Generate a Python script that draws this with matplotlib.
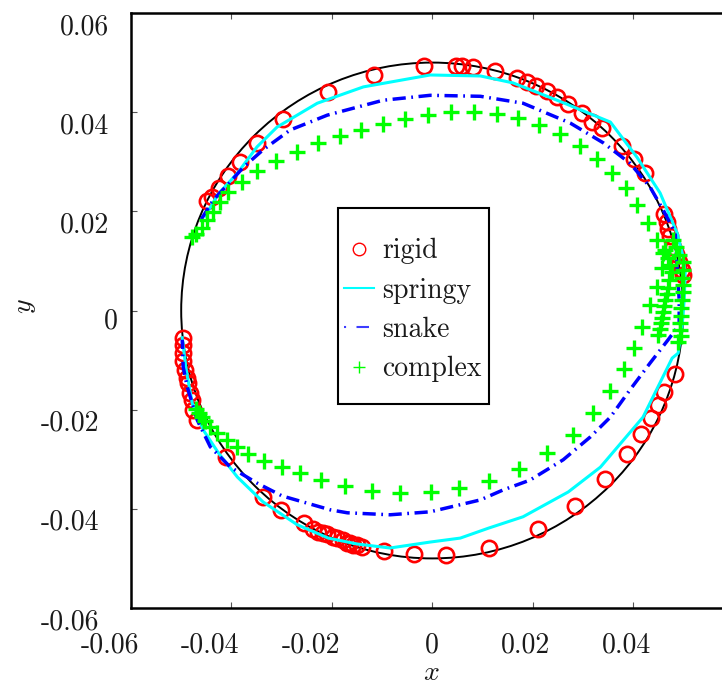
import matplotlib
matplotlib.use("Agg")
import matplotlib.pyplot as plt
from matplotlib.patches import Circle, Rectangle
from matplotlib.lines import Line2D
from matplotlib.font_manager import FontProperties

plt.rcParams["mathtext.fontset"] = "cm"

# ---- data -------------------------------------------------------------
boundary_radius = 0.05

rigid_x = [0.0500, 0.0498, 0.0492, 0.0486, 0.0480, 0.0474, 0.0470, 0.0468, 0.0462,
           0.0424, 0.0402, 0.0378, 0.0339, 0.0319, 0.0299, 0.0271, 0.0249, 0.0229,
           0.0207, 0.0189, 0.0169, 0.0125, 0.0082, 0.0060, 0.0048, -0.0016, -0.0116,
           -0.0207, -0.0297, -0.0349, -0.0382, -0.0406, -0.0424, -0.0438, -0.0448,
           -0.0496, -0.0496, -0.0496, -0.0496, -0.0492, -0.0488, -0.0486, -0.0482,
           -0.0478, -0.0476, -0.0468,
           -0.0410, -0.0337, -0.0301, -0.0255, -0.0237, -0.0227, -0.0217, -0.0209,
           -0.0197, -0.0189, -0.0177, -0.0169, -0.0163, -0.0157, -0.0149, -0.0139,
           -0.0096, -0.0036, 0.0028, 0.0114, 0.0211, 0.0285, 0.0345, 0.0388, 0.0416,
           0.0436, 0.0450, 0.0462, 0.0484]
rigid_y = [0.0072, 0.0082, 0.0098, 0.0114, 0.0128, 0.0150, 0.0164, 0.0178, 0.0195,
           0.0277, 0.0305, 0.0332, 0.0368, 0.0380, 0.0398, 0.0416, 0.0430, 0.0443,
           0.0453, 0.0461, 0.0469, 0.0483, 0.0491, 0.0493, 0.0493, 0.0493, 0.0475,
           0.0441, 0.0386, 0.0338, 0.0299, 0.0271, 0.0247, 0.0229, 0.0221,
           -0.0055, -0.0070, -0.0086, -0.0102, -0.0120, -0.0136, -0.0146, -0.0166,
           -0.0180, -0.0201, -0.0221,
           -0.0295, -0.0376, -0.0402, -0.0428, -0.0441, -0.0447, -0.0449, -0.0451,
           -0.0457, -0.0459, -0.0463, -0.0469, -0.0469, -0.0473, -0.0473, -0.0477,
           -0.0485, -0.0491, -0.0493, -0.0479, -0.0441, -0.0394, -0.0340, -0.0289,
           -0.0249, -0.0217, -0.0191, -0.0164, -0.0128]

springy_x = [-0.0452, -0.0426, -0.0388, -0.0349, -0.0309, -0.0229, -0.0137, -0.0004,
             0.0096, 0.0161, 0.0249, 0.0355, 0.0408, 0.0454, 0.0488, 0.0500, 0.0504,
             0.0502, 0.0498, 0.0490, 0.0478, 0.0420, 0.0335, 0.0271, 0.0181, 0.0112,
             0.0056, -0.0004, -0.0084, -0.0149, -0.0207, -0.0269, -0.0337, -0.0388,
             -0.0426, -0.0456, -0.0478, -0.0490, -0.0498]
springy_y = [0.0191, 0.0235, 0.0277, 0.0330, 0.0370, 0.0418, 0.0451, 0.0475,
             0.0473, 0.0459, 0.0424, 0.0380, 0.0309, 0.0237, 0.0156, 0.0108, 0.0076,
             0.0021, -0.0029, -0.0086, -0.0096, -0.0215, -0.0316, -0.0366, -0.0416,
             -0.0439, -0.0459, -0.0467, -0.0479, -0.0471, -0.0459, -0.0432, -0.0386,
             -0.0336, -0.0287, -0.0241, -0.0187, -0.0120, -0.0055]

snake_x = [-0.0460, -0.0436, -0.0408, -0.0376, -0.0337, -0.0283, -0.0209, -0.0098,
           -0.0004, 0.0096, 0.0181, 0.0275, 0.0341, 0.0394, 0.0434, 0.0460, 0.0484,
           0.0488, 0.0492, 0.0492, 0.0470, 0.0434, 0.0394, 0.0355, 0.0315, 0.0261,
           0.0195, 0.0141, 0.0096, -0.0004, -0.0084, -0.0169, -0.0203, -0.0299,
           -0.0349, -0.0402, -0.0442, -0.0468, -0.0488, -0.0496, -0.0498]
snake_y = [0.0184, 0.0223, 0.0253, 0.0289, 0.0324, 0.0364, 0.0394, 0.0424,
           0.0434, 0.0432, 0.0418, 0.0378, 0.0338, 0.0297, 0.0249, 0.0203, 0.0156,
           0.0088, 0.0021, -0.0029, -0.0059, -0.0106, -0.0160, -0.0215, -0.0255,
           -0.0301, -0.0342, -0.0362, -0.0382, -0.0406, -0.0412, -0.0408, -0.0402,
           -0.0374, -0.0348, -0.0316, -0.0275, -0.0221, -0.0154, -0.0114, -0.0059]

complex_x = [-0.0478, -0.0470, -0.0458, -0.0448, -0.0436, -0.0422, -0.0406, -0.0378,
             -0.0349, -0.0311, -0.0269, -0.0227, -0.0183, -0.0141, -0.0098, -0.0054,
             -0.0008, 0.0038, 0.0084, 0.0129, 0.0171, 0.0213, 0.0255, 0.0295, 0.0329,
             0.0359, 0.0386, 0.0408, 0.0430, 0.0448,
             0.0480, 0.0486, 0.0492, 0.0500, 0.0500, 0.0498, 0.0500, 0.0500, 0.0498,
             0.0496, 0.0496, 0.0494, 0.0494, 0.0496, 0.0490,
             0.0464, 0.0470, 0.0474, 0.0478, 0.0472, 0.0470, 0.0468, 0.0464, 0.0462,
             0.0460, 0.0458, 0.0456, 0.0454, 0.0450,
             0.0460, 0.0458, 0.0448, 0.0434, 0.0418, 0.0402,
             0.0382, 0.0355, 0.0321, 0.0281, 0.0229, 0.0173, 0.0114, 0.0054, -0.0002,
             -0.0064, -0.0120, -0.0173, -0.0221, -0.0263, -0.0299, -0.0335, -0.0367,
             -0.0388, -0.0408, -0.0428, -0.0442, -0.0452, -0.0458, -0.0464, -0.0470]
complex_y = [0.0148, 0.0154, 0.0166, 0.0182, 0.0199, 0.0219, 0.0239, 0.0259,
             0.0281, 0.0301, 0.0320, 0.0338, 0.0352, 0.0364, 0.0376, 0.0386,
             0.0394, 0.0400, 0.0400, 0.0396, 0.0388, 0.0374, 0.0356, 0.0332, 0.0305,
             0.0277, 0.0247, 0.0213, 0.0176, 0.0142,
             0.0142, 0.0128, 0.0112, 0.0098, 0.0082, 0.0066, 0.0051, 0.0037, 0.0021,
             0.0005, -0.0011, -0.0025, -0.0039, -0.0051, -0.0064,
             0.0122, 0.0106, 0.0092, 0.0078, 0.0061, 0.0045, 0.0033, 0.0021, 0.0009,
             -0.0003, -0.0015, -0.0025, -0.0037, -0.0049,
             0.0116, 0.0086, 0.0047, 0.0011, -0.0033, -0.0076,
             -0.0118, -0.0162, -0.0207, -0.0251, -0.0287, -0.0320, -0.0344, -0.0358,
             -0.0366, -0.0368, -0.0364, -0.0354, -0.0342, -0.0328, -0.0316, -0.0303,
             -0.0289, -0.0275, -0.0261, -0.0247, -0.0235, -0.0223, -0.0215, -0.0207,
             -0.0199]

x_ticks = [-0.06, -0.04, -0.02, 0.0, 0.02, 0.04]
x_tick_labels = ["-0.06", "-0.04", "-0.02", "0", "0.02", "0.04"]
y_ticks = [-0.06, -0.04, -0.02, 0.0, 0.02, 0.04, 0.06]
y_tick_labels = ["-0.06", "-0.04", "-0.02", "0", "0.02", "0.04", "0.06"]
legend_labels = ["rigid", "springy", "snake", "complex"]

# ---- figure -----------------------------------------------------------
W, H = 722, 685
fig = plt.figure(figsize=(W / 100, H / 100), dpi=100)
ax = fig.add_axes([131 / W, 77 / H, 602.4 / W, 595 / H])
ax.set_xlim(-0.06, 0.06)
ax.set_ylim(-0.06, 0.06)

roman = FontProperties(family="cmr10", size=20)
text_color = "#1a1a1a"

ax.add_patch(Circle((0, 0), boundary_radius, fill=False, ec="black", lw=1.4, zorder=1))
ax.plot(rigid_x, rigid_y, ls="none", marker="o", mfc="none", mec="#ff0000",
        ms=11, mew=1.9, zorder=2)
ax.plot(springy_x, springy_y, color="#00ffff", lw=2.2, zorder=3)
ax.plot(snake_x, snake_y, color="#0000ff", lw=2.5, zorder=3,
        dashes=[3.8, 1.6, 0.5, 1.6])
ax.plot(complex_x, complex_y, ls="none", marker="+", color="#00ff00",
        ms=12, mew=2.4, zorder=4)

# ticks point into the box, labels drawn separately
ax.set_xticks(x_ticks)
ax.set_yticks(y_ticks)
ax.tick_params(direction="in", length=4, width=0.8, color="#555555",
               top=True, right=True, labelbottom=False, labelleft=False)
for sp in ax.spines.values():
    sp.set_linewidth(1.8)

for t, lab in zip(x_ticks, x_tick_labels):
    if lab == "0":
        dx, ha = 0, "center"
    elif lab.startswith("-"):
        dx, ha = 8, "right"
    else:
        dx, ha = 18, "right"
    ax.annotate(lab, xy=(t, -0.06), xytext=(dx, -37), textcoords="offset pixels",
                ha=ha, va="center", fontproperties=roman, color=text_color,
                annotation_clip=False)

for t, lab in zip(y_ticks, y_tick_labels):
    if lab == "0":
        dx, dy = -13, -11
    elif lab.startswith("-"):
        dx, dy = -32, -14
    else:
        dx, dy = -22, -14
    ax.annotate(lab, xy=(-0.06, t), xytext=(dx, dy), textcoords="offset pixels",
                ha="right", va="center", fontproperties=roman, color=text_color,
                annotation_clip=False)

fig.text(431 / W, 1 - 672 / H, r"$x$", ha="center", va="center", fontsize=20,
         color=text_color)
fig.text(24 / W, 1 - 306 / H, r"$y$", ha="center", va="center", fontsize=20,
         rotation=90, color=text_color)

# legend box
ax.add_patch(Rectangle((0.3436, 0.3429), 0.2507, 0.3294, transform=ax.transAxes,
                       fc="white", ec="black", lw=1.5, zorder=5))
handles = [
    Line2D([], [], ls="none", marker="o", mfc="none", mec="#ff0000", ms=9, mew=1.0),
    Line2D([], [], color="#00ffff", lw=1.5),
    Line2D([], [], color="#3d3dff", lw=1.5, ls=(0, (1, 5, 6, 5))),
    Line2D([], [], ls="none", marker="+", color="#00ff00", ms=9, mew=1.0),
]
leg = ax.legend(handles, legend_labels, loc="center left",
                bbox_to_anchor=(0.3536, 0.5005), frameon=False, borderpad=0,
                borderaxespad=0, handlelength=1.08, handletextpad=0.3,
                labelspacing=0.47, prop=FontProperties(family="cmr10", size=20))
for txt in leg.get_texts():
    txt.set_color(text_color)
leg.set_zorder(6)

fig.savefig("out.png", dpi=100)
